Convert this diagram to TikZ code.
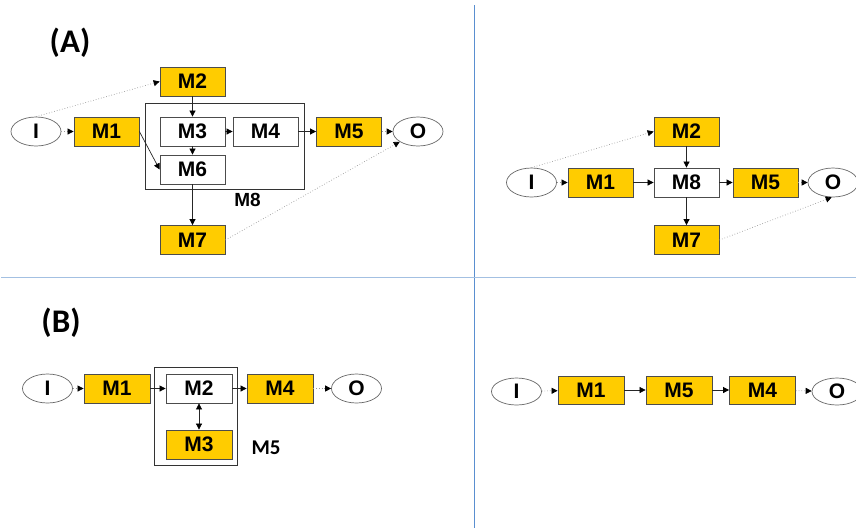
\documentclass[tikz,border=0pt]{standalone}
\usepackage{fontspec}
\setmainfont{Liberation Sans}
\newfontfamily\calib{Carlito}
\usetikzlibrary{arrows.meta,shapes.geometric}
\definecolor{gold}{HTML}{FFCC00}
\definecolor{divA}{HTML}{5A8FD0}
\definecolor{divB}{HTML}{A3C0E2}
\tikzset{
  box/.style={draw=black!70, line width=0.8pt, minimum width=65pt, minimum height=29pt, inner sep=0pt,
    font=\bfseries\fontsize{21}{21}\selectfont},
  goldbox/.style={box, fill=gold},
  whitebox/.style={box, fill=white},
  ell/.style={ellipse, draw=black!60, line width=0.7pt, minimum width=50pt, minimum height=29pt, inner sep=0pt,
    font=\bfseries\fontsize{21}{21}\selectfont},
  cont/.style={draw=black!80, line width=0.7pt, inner sep=0pt},
  solid arrow/.style={draw=black!85, line width=0.7pt, -{Triangle[length=6pt,width=6pt,color=black]}},
  dot arrow/.style={draw=black!40, line width=0.7pt, dotted, -{Triangle[length=6pt,width=6pt,color=black]}},
  both arrow/.style={draw=black!85, line width=0.7pt, {Triangle[length=6pt,width=6pt,color=black]}-{Triangle[length=6pt,width=6pt,color=black]}},
  panel/.style={font=\calib\bfseries\fontsize{33}{33}\selectfont},
  boxlabel/.style={font=\bfseries\fontsize{19}{19}\selectfont},
}
\begin{document}
\begin{tikzpicture}[x=1pt,y=-1pt]
\useasboundingbox (0,0) rectangle (856,528);
% dividers
\draw[divA, line width=1pt] (474.5,5) -- (474.5,528);
\draw[divB, line width=1pt] (1,277.5) -- (856,277.5);

% ---------- Panel A left ----------
\node[panel] (labA) at (70,43) {(A)};
\node[cont, minimum width=159pt, minimum height=86pt] (M8boxA) at (224.5,146) {};
\node[boxlabel] (M8labA) at (247.5,200) {M8};
\node[ell] (IA) at (36,131.5) {I};
\node[goldbox] (M1A) at (106.5,131.5) {M1};
\node[goldbox] (M2A) at (192.5,81.5) {M2};
\node[whitebox] (M3A) at (192.5,131.5) {M3};
\node[whitebox] (M4A) at (265.5,131.5) {M4};
\node[whitebox] (M6A) at (192.5,169.5) {M6};
\node[goldbox] (M7A) at (192.5,240) {M7};
\node[goldbox] (M5A) at (349,131.5) {M5};
\node[ell] (OA) at (418,131.5) {O};

\draw[dot arrow] (IA) -- (M1A);
\draw[dot arrow] (IA.north) -- (M2A.west);
\draw[solid arrow] (M2A) -- (M3A);
\draw[solid arrow] (M1A.east) -- (M6A.west);
\draw[solid arrow] (M3A) -- (M4A);
\draw[solid arrow] (M3A) -- (M6A);
\draw[solid arrow] (M4A) -- (M5A);
\draw[dot arrow] (M5A) -- (OA);
\draw[solid arrow] (M6A) -- (M7A);
\draw[dot arrow] (M7A.east) -- (OA);

% ---------- Panel A right ----------
\node[ell] (IR) at (531.5,182.5) {I};
\node[goldbox] (M1R) at (600.5,182.5) {M1};
\node[whitebox] (M8R) at (686.5,182.5) {M8};
\node[goldbox] (M2R) at (686.5,131.5) {M2};
\node[goldbox] (M7R) at (686.5,240) {M7};
\node[goldbox] (M5R) at (765.5,182.5) {M5};
\node[ell] (OR) at (833,182.5) {O};

\draw[dot arrow] (IR) -- (M1R);
\draw[dot arrow] (IR.north) -- (M2R.west);
\draw[solid arrow] (M1R) -- (M8R);
\draw[solid arrow] (M2R) -- (M8R);
\draw[solid arrow] (M8R) -- (M5R);
\draw[solid arrow] (M8R) -- (M7R);
\draw[dot arrow] (M5R) -- (OR);
\draw[dot arrow] (M7R.east) -- (OR.265);

% ---------- Panel B left ----------
\node[panel] (labB) at (61,323) {(B)};
\node[cont, minimum width=83pt, minimum height=98pt] (M5boxB) at (195.5,416) {};
\node[font=\calib\bfseries\fontsize{21}{21}\selectfont] (M5labB) at (266,448) {M5};
\node[ell] (IB) at (47.5,388.5) {I};
\node[goldbox, minimum width=66pt] (M1B) at (117,388.5) {M1};
\node[whitebox, minimum width=66pt] (M2B) at (199,388.5) {M2};
\node[goldbox, minimum width=66pt] (M3B) at (199,444.5) {M3};
\node[goldbox, minimum width=66pt] (M4B) at (280,388.5) {M4};
\node[ell] (OB) at (356.5,388.5) {O};

\draw[dot arrow] (IB) -- (M1B);
\draw[solid arrow] (M1B) -- (M2B);
\draw[both arrow] (M2B) -- (M3B);
\draw[solid arrow] (M2B) -- (M4B);
\draw[dot arrow] (M4B) -- (OB);

% ---------- Panel B right ----------
\node[ell, minimum height=27pt] (IBR) at (516.5,391.5) {I};
\node[goldbox, minimum width=66pt, minimum height=28pt] (M1BR) at (591,390) {M1};
\node[goldbox, minimum width=66pt, minimum height=28pt] (M5BR) at (679,390) {M5};
\node[goldbox, minimum width=66pt, minimum height=28pt] (M4BR) at (762.5,390) {M4};
\node[ell, minimum height=27pt] (OBR) at (837,391.5) {O};

\draw[dot arrow] (IBR) -- (M1BR);
\draw[solid arrow] (M1BR) -- (M5BR);
\draw[solid arrow] (M5BR) -- (M4BR);
\draw[dot arrow] (M4BR) -- (OBR);
\end{tikzpicture}
\end{document}
